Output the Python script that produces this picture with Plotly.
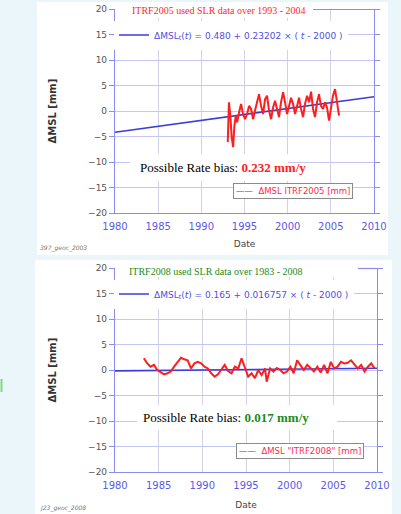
import plotly.graph_objects as go

# ---------------- data ----------------
years_2005 = [1993.06, 1993.2, 1993.37, 1993.52, 1993.68, 1993.83, 1993.99, 1994.14, 1994.37, 1994.6,
              1994.83, 1995.06, 1995.3, 1995.53, 1995.76, 1995.99, 1996.22, 1996.45, 1996.68, 1996.92,
              1997.15, 1997.38, 1997.61, 1997.84, 1998.08, 1998.31, 1998.54, 1998.77, 1999.0, 1999.23,
              1999.47, 1999.7, 1999.93, 2000.16, 2000.39, 2000.62, 2000.86, 2001.09, 2001.32, 2001.55,
              2001.78, 2002.01, 2002.25, 2002.48, 2002.71, 2002.94, 2003.17, 2003.4, 2003.63, 2003.86,
              2004.1, 2004.33, 2004.56, 2004.79, 2005.02, 2005.25, 2005.49, 2005.72, 2005.95]
msl_2005 = [-6.1, 1.7, -1.2, -5.2, -7.1, -2.9, -0.9, -2.2, -0.3, 1.4,
            -0.6, -1.6, -0.6, 1.0, 0.4, -1.6, 0.1, 1.7, 3.3, 1.0,
            -0.6, 2.3, 3.0, 0.1, -1.6, 0.7, 2.0, 0.4, -1.2, 1.7,
            3.7, 1.7, -0.6, 1.0, 2.6, 1.4, -0.6, 1.0, 2.6, 0.4,
            -1.2, 1.4, 3.0, 1.7, 3.8, 0.4, -1.2, 1.7, 3.3, 1.0,
            0.4, 1.7, 0.7, -1.9, 1.0, 3.0, 4.3, 1.7, -0.9]

years_2008 = [1983.3, 1983.69, 1984.07, 1984.46, 1984.84, 1985.23, 1985.62, 1986.0, 1986.39, 1986.77,
              1987.16, 1987.55, 1987.93, 1988.32, 1988.7, 1989.09, 1989.48, 1989.86, 1990.25, 1990.63,
              1991.02, 1991.41, 1991.79, 1992.18, 1992.56, 1992.95, 1993.34, 1993.72, 1994.11, 1994.49,
              1994.87, 1995.25, 1995.64, 1996.02, 1996.41, 1996.79, 1997.18, 1997.37, 1997.76, 1998.15,
              1998.53, 1998.92, 1999.3, 1999.69, 2000.08, 2000.46, 2000.85, 2001.24, 2001.62, 2002.01,
              2002.39, 2002.78, 2003.17, 2003.55, 2003.94, 2004.33, 2004.71, 2005.1, 2005.48, 2005.87,
              2006.26, 2006.64, 2007.03, 2007.41, 2007.8, 2008.19, 2008.57, 2008.96, 2009.34, 2009.73]
msl_2008 = [2.3, 1.3, 0.65, 1.0, 0.0, -0.5, -0.85, -0.65, -0.3, 0.65,
            1.6, 2.4, 2.1, 1.9, 0.3, 1.3, 1.6, 1.3, 0.65, 0.3,
            -0.65, -1.3, -0.85, 0.0, 1.0, -0.2, -0.65, 0.65, 0.3, 2.3,
            0.3, -1.3, -0.65, -1.6, 0.0, -1.0, 0.3, -2.3, 0.3, -0.3,
            0.4, 0.0, -0.65, -0.3, 0.65, -0.65, 1.9, 1.0, 0.0, 1.0,
            0.3, -0.3, 0.65, -0.5, 1.0, -0.65, 1.6, 0.3, 0.65, 1.6,
            1.3, 1.4, 1.9, 1.0, 0.3, 1.0, -0.3, 0.65, 1.3, 0.3]

trend_years = [1980, 2010]
trend_2005 = [-4.16, 2.80]
trend_2008 = [-0.17, 0.33]

W, H = 401, 514
def px(x): return x / W
def py(y): return 1 - y / H

RED = "#ff1e1e"
BLUE = "#3c3cdc"
SANS = "DejaVu Sans"
SERIF = "Liberation Serif"

fig = go.Figure()

fig.add_trace(go.Scatter(x=trend_years, y=trend_2005, mode="lines",
                         line=dict(color=BLUE, width=1.6),
                         name="ΔMSL<sub>t</sub>(<i>t</i>) = 0.480 + 0.23202 × ( <i>t</i> - 2000 )",
                         legend="legend", xaxis="x", yaxis="y"))
fig.add_trace(go.Scatter(x=years_2005, y=msl_2005, mode="lines",
                         line=dict(color=RED, width=2), showlegend=False,
                         name="ΔMSL ITRF2005 [mm]", xaxis="x", yaxis="y"))
fig.add_trace(go.Scatter(x=trend_years, y=trend_2008, mode="lines",
                         line=dict(color=BLUE, width=1.6),
                         name="ΔMSL<sub>t</sub>(<i>t</i>) = 0.165 + 0.016757 × ( <i>t</i> - 2000 )",
                         legend="legend2", xaxis="x2", yaxis="y2"))
fig.add_trace(go.Scatter(x=years_2008, y=msl_2008, mode="lines",
                         line=dict(color=RED, width=2), showlegend=False,
                         name="ΔMSL \"ITRF2008\" [mm]", xaxis="x2", yaxis="y2"))

def xax(domain, anchor, standoff):
    return dict(domain=domain, anchor=anchor, range=[1980, 2010], dtick=5, tick0=1980,
                showgrid=True, gridcolor="#d2d2e6", gridwidth=1, zeroline=False,
                showline=True, linecolor="#8c8cf0", linewidth=1.2, ticks="",
                ticklabelstandoff=4, automargin=False,
                tickfont=dict(family=SANS, size=10, color="#5a5ae8"),
                title=dict(text="Date", font=dict(family=SANS, size=9, color="#444"), standoff=standoff))

def yax(domain, anchor):
    return dict(domain=domain, anchor=anchor, range=[-20, 20], dtick=5, tick0=0,
                showgrid=True, gridcolor="#c6c6f6", gridwidth=1, zeroline=False,
                showline=True, linecolor="#8c8cf0", linewidth=1.2, mirror="ticks",
                ticks="outside", ticklen=5, tickcolor="#8c8cf0", automargin=False,
                tickfont=dict(family=SANS, size=9, color="#555"),
                title=dict(text="<b>ΔMSL [mm]</b>", font=dict(family=SANS, size=10, color="#333"), standoff=29))

leg_blue = dict(bgcolor="white", borderwidth=0, font=dict(family=SANS, size=9, color="#5050e0"),
                xanchor="left", yanchor="middle", itemclick=False)

fig.update_layout(
    width=W, height=H, autosize=False,
    margin=dict(l=0, r=0, t=0, b=0, pad=0, autoexpand=False),
    paper_bgcolor="#eaf6fa", plot_bgcolor="white",
    xaxis=xax([px(115), px(374)], "y", 9),
    yaxis=yax([py(213), py(9)], "x"),
    xaxis2=xax([px(115), px(377)], "y2", 11),
    yaxis2=yax([py(472), py(268)], "x2"),
    legend=dict(leg_blue, x=px(114), y=py(35)),
    legend2=dict(leg_blue, x=px(114), y=py(294)),
    showlegend=True,
)

shapes = [
    # white panels
    dict(type="rect", xref="paper", yref="paper", x0=px(37), x1=px(388), y0=py(255), y1=py(2),
         fillcolor="white", line=dict(width=0), layer="below"),
    dict(type="rect", xref="paper", yref="paper", x0=px(35), x1=px(392), y0=py(514), y1=py(260),
         fillcolor="white", line=dict(width=0), layer="below"),
    # small green mark at left edge
    dict(type="line", xref="paper", yref="paper", x0=px(1.5), x1=px(1.5), y0=py(392), y1=py(379),
         line=dict(color="#7cdc7c", width=2), layer="below"),
    # title boxes
    dict(type="rect", xref="paper", yref="paper", x0=px(116.5), x1=px(313), y0=py(18), y1=py(2),
         fillcolor="white", line=dict(width=0), layer="above"),
    dict(type="rect", xref="paper", yref="paper", x0=px(116.5), x1=px(358), y0=py(277), y1=py(261),
         fillcolor="white", line=dict(width=0), layer="above"),
    # top spine segments
    dict(type="line", xref="paper", yref="paper", x0=px(313), x1=px(374), y0=py(9.5), y1=py(9.5),
         line=dict(color="#8c8cf0", width=1.2), layer="above"),
    dict(type="line", xref="paper", yref="paper", x0=px(358), x1=px(377), y0=py(268.5), y1=py(268.5),
         line=dict(color="#8c8cf0", width=1.2), layer="above"),
    # bias text boxes
    dict(type="rect", xref="paper", yref="paper", x0=px(130), x1=px(288), y0=py(181), y1=py(154),
         fillcolor="white", line=dict(width=0), layer="above"),
    dict(type="rect", xref="paper", yref="paper", x0=px(137), x1=px(337), y0=py(430), y1=py(405),
         fillcolor="white", line=dict(width=0), layer="above"),
]
fig.update_layout(shapes=shapes)

LEGRED = "#ff2a48"
annotations = [
    dict(text="ITRF2005 used SLR data over 1993 - 2004", x=px(130), y=py(10), xref="paper", yref="paper",
         xanchor="left", yanchor="middle", showarrow=False,
         font=dict(family=SERIF, size=10, color="#ff2a2a")),
    dict(text="ITRF2008 used SLR data over 1983 - 2008", x=px(127), y=py(271), xref="paper", yref="paper",
         xanchor="left", yanchor="middle", showarrow=False,
         font=dict(family=SERIF, size=10, color="#1a8c1a")),
    dict(text="Possible Rate bias: <b><span style='color:#ff2020'>0.232 mm/y</span></b>",
         x=px(138), y=py(168), xref="paper", yref="paper", xanchor="left", yanchor="middle",
         showarrow=False, font=dict(family=SERIF, size=13, color="black")),
    dict(text="Possible Rate bias: <b><span style='color:#1a8c1a'>0.017 mm/y</span></b>",
         x=px(141), y=py(417), xref="paper", yref="paper", xanchor="left", yanchor="middle",
         showarrow=False, font=dict(family=SERIF, size=13, color="black")),
    # red series legends
    dict(text="——  ΔMSL ITRF2005 [mm]", x=px(293), y=py(190.5), xref="paper", yref="paper",
         xanchor="center", yanchor="middle", showarrow=False, bgcolor="white",
         bordercolor="#8a8a8a", borderwidth=1, borderpad=2,
         font=dict(family=SANS, size=8.5, color=LEGRED)),
    dict(text="——  ΔMSL \"ITRF2008\" [mm]", x=px(300), y=py(450.5), xref="paper", yref="paper",
         xanchor="center", yanchor="middle", showarrow=False, bgcolor="white",
         bordercolor="#8a8a8a", borderwidth=1, borderpad=2,
         font=dict(family=SANS, size=8.5, color=LEGRED)),
    dict(text="<i>397_geoc_2003</i>", x=px(38), y=py(248), xref="paper", yref="paper",
         xanchor="left", yanchor="middle", showarrow=False,
         font=dict(family=SANS, size=6, color="#777")),
    dict(text="<i>J23_geoc_2008</i>", x=px(38), y=py(508), xref="paper", yref="paper",
         xanchor="left", yanchor="middle", showarrow=False,
         font=dict(family=SANS, size=6, color="#777")),
]
fig.update_layout(annotations=annotations)

fig.write_html("out.html", config={"displayModeBar": False},
               post_script="document.body.style.margin='0';document.body.style.overflow='hidden';")
